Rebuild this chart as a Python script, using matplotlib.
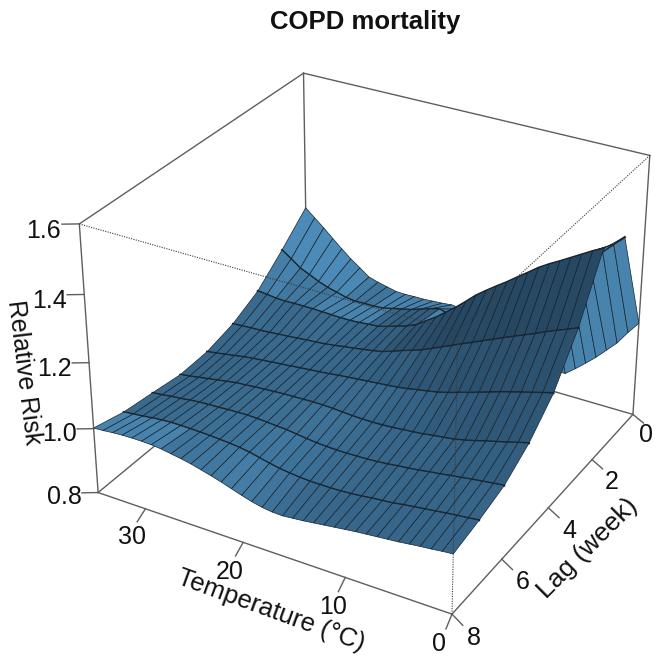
import numpy as np
import matplotlib
matplotlib.use('Agg')
import matplotlib.pyplot as plt
from matplotlib.colors import LinearSegmentedColormap

plt.rcParams['font.family'] = ['Liberation Sans', 'DejaVu Sans']

# Relative risk, one row per lag, one value per degree (0..35)
temperature = list(range(36))
lag_weeks = list(range(9))
rr_lag0 = [1.093, 1.055, 1.013, .981, .949, .921, .894, .869, .869, .881, .892, .904, .915, .926, .938, .949, .961, .972,
           .984, .988, .985, .983, .981, .981, .980, .981, .988, .995, 1.004, 1.026, 1.047, 1.072, 1.098, 1.125, 1.150, 1.175]
rr_lag1 = [1.419, 1.390, 1.360, 1.300, 1.282, 1.265, 1.246, 1.223, 1.201, 1.178, 1.157, 1.135, 1.112, 1.090, 1.065, 1.045, 1.030, 1.040,
           1.048, 1.040, 1.030, 1.020, 1.013, 1.006, .999, .997, .997, .996, 1.000, 1.008, 1.016, 1.027, 1.041, 1.054, 1.076, 1.097]
rr_lag2 = [1.447, 1.431, 1.413, 1.395, 1.377, 1.360, 1.341, 1.318, 1.296, 1.273, 1.252, 1.230, 1.207, 1.179, 1.152, 1.128, 1.104, 1.084,
           1.063, 1.050, 1.041, 1.031, 1.023, 1.021, 1.018, 1.016, 1.016, 1.017, 1.018, 1.019, 1.019, 1.019, 1.018, 1.019, 1.023, 1.026]
rr_lag3 = [1.277, 1.264, 1.252, 1.239, 1.225, 1.212, 1.199, 1.186, 1.172, 1.159, 1.145, 1.132, 1.118, 1.104, 1.091, 1.077, 1.067, 1.057,
           1.046, 1.036, 1.030, 1.025, 1.020, 1.016, 1.011, 1.007, 1.004, 1.002, .999, .996, .994, .991, .989, .988, .986, .984]
rr_lag4 = [1.152, 1.144, 1.135, 1.127, 1.118, 1.109, 1.099, 1.089, 1.079, 1.070, 1.060, 1.052, 1.046, 1.041, 1.035, 1.030, 1.027, 1.024,
           1.021, 1.018, 1.015, 1.012, 1.008, 1.005, 1.002, .999, .996, .993, .990, .987, .984, .980, .975, .970, .965, .961]
rr_lag5 = [1.075, 1.067, 1.058, 1.050, 1.042, 1.033, 1.025, 1.018, 1.014, 1.010, 1.005, 1.002, .999, .996, .994, .993, .993, .994,
           .996, .998, .999, .999, .998, .997, .996, .994, .992, .990, .987, .985, .980, .975, .970, .965, .960, .956]
rr_lag6 = [1.024, 1.020, 1.016, 1.012, 1.007, 1.003, .998, .994, .989, .985, .982, .978, .975, .973, .972, .971, .971, .972,
           .974, .977, .981, .985, .987, .989, .991, .992, .991, .990, .988, .987, .985, .982, .978, .975, .971, .968]
rr_lag7 = [.999, .995, .992, .988, .984, .980, .976, .972, .967, .964, .961, .957, .954, .952, .951, .951, .951, .953,
           .956, .960, .966, .973, .980, .985, .988, .990, .992, .993, .994, .994, .994, .992, .989, .985, .982, .979]
rr_lag8 = [.980, .977, .973, .970, .966, .962, .959, .956, .953, .950, .946, .942, .938, .934, .930, .927, .924, .925,
           .929, .936, .945, .955, .965, .974, .982, .990, .996, 1.001, 1.006, 1.009, 1.010, 1.010, 1.009, 1.007, 1.004, 1.002]
rr_ticks = [0.8, 1.0, 1.2, 1.4, 1.6]
temp_ticks = [0, 10, 20, 30]
lag_ticks = [0, 2, 4, 6, 8]

rr = np.array([rr_lag0, rr_lag1, rr_lag2, rr_lag3, rr_lag4, rr_lag5, rr_lag6, rr_lag7, rr_lag8])
T, L = np.meshgrid(temperature, lag_weeks)
T_MAX, LAG_MAX = temperature[-1], lag_weeks[-1]
Z_MIN, Z_MAX = rr_ticks[0], rr_ticks[-1]

fig = plt.figure(figsize=(6.55, 6.58), dpi=100)
ax = fig.add_axes([36.25 / 655, -4.68 / 658, 1, 1], projection='3d', computed_zorder=False)
ax.set_xlim(0, T_MAX)
ax.set_ylim(0, LAG_MAX)
ax.set_zlim(Z_MIN, Z_MAX)
ax.view_init(elev=29.882, azim=120.0039)
ax.set_proj_type('persp', focal_length=0.6636)
ax.set_box_aspect((1.329, 1.3291, 1), zoom=0.9588)
ax.set_axis_off()

# facet shade comes from the slope in box units
slope_t = np.zeros_like(rr)
slope_l = np.zeros_like(rr)
slope_t[:-1, :-1] = ((rr[:-1, 1:] - rr[:-1, :-1] + rr[1:, 1:] - rr[1:, :-1]) / 2 / 0.8) / (1.329 / T_MAX)
slope_l[:-1, :-1] = ((rr[1:, :-1] - rr[:-1, :-1] + rr[1:, 1:] - rr[:-1, 1:]) / 2 / 0.8) / (1.329 / LAG_MAX)
cmap = LinearSegmentedColormap.from_list('rr', ['#1d364a', '#2f5878', '#4c8bb7'])
shade = np.clip(0.72 + 0.55 * slope_t + 0.14 * slope_l, 0, 1)
# facets that fall away towards lag 0 are seen from below, and those are the light ones
shade[slope_l > 0.1] = 0.92
colors = cmap(shade)

LINE = '#18242e'
# strips go back to front, so the ridge hides what is behind it
for k in range(LAG_MAX):
    if k > 0:
        ax.plot(T[k], L[k], rr[k], color=LINE, lw=1.5, zorder=10 + 2 * k)
    ax.plot_surface(T[k:k + 2], L[k:k + 2], rr[k:k + 2], rstride=1, cstride=1, facecolors=colors[k:k + 2],
                    shade=False, edgecolor=LINE, linewidth=0.5, zorder=11 + 2 * k)

# box
GREY = '#5e5e5e'
solid = [
    ((T_MAX, LAG_MAX, Z_MIN), (T_MAX, LAG_MAX, Z_MAX)),
    ((0, 0, Z_MIN), (0, 0, Z_MAX)),
    ((T_MAX, 0, Z_MIN), (T_MAX, 0, Z_MAX)),
    ((T_MAX, LAG_MAX, Z_MAX), (T_MAX, 0, Z_MAX)),
    ((T_MAX, 0, Z_MAX), (0, 0, Z_MAX)),
    ((T_MAX, LAG_MAX, Z_MIN), (T_MAX, 0, Z_MIN)),
    ((T_MAX, 0, Z_MIN), (0, 0, Z_MIN)),
    ((T_MAX, LAG_MAX, Z_MIN), (0, LAG_MAX, Z_MIN)),
    ((0, LAG_MAX, Z_MIN), (0, 0, Z_MIN)),
]
for a, b in solid:
    ax.plot(*zip(a, b), color=GREY, lw=1.0, zorder=1)
dotted = [
    ((T_MAX, LAG_MAX, Z_MAX), (0, LAG_MAX, Z_MAX)),
    ((0, 0, Z_MAX), (0, LAG_MAX, Z_MAX)),
    ((0, LAG_MAX, Z_MIN), (0, LAG_MAX, Z_MAX)),
]
for a, b in dotted:
    ax.plot(*zip(a, b), color='#3a3a3a', lw=0.8, ls=(0, (1, 1.2)), zorder=60)

# tick marks
for t in temp_ticks:
    ax.plot([t, t - 0.51], [LAG_MAX, LAG_MAX + 0.45], [Z_MIN, Z_MIN], color=GREY, lw=1.0, zorder=1)
for l in lag_ticks:
    ax.plot([0, -1.45], [l, l + 0.2], [Z_MIN, Z_MIN], color=GREY, lw=1.0, zorder=1)
for r in rr_ticks:
    ax.plot([T_MAX, T_MAX + 1.2], [LAG_MAX, LAG_MAX + 0.17], [r, r], color=GREY, lw=1.0, zorder=1)


def label(x, y, s, **kw):
    # x, y in pixels from the top left of the picture
    fig.text(x / 655, 1 - y / 658, s, ha='center', va='center', color='#111111', **kw)


TICK = 18
for r, x, y in zip(rr_ticks, [64, 59, 54, 49, 43], [497, 434, 369, 301, 231]):
    label(x, y, '%.1f' % r, fontsize=TICK)
for t, x, y in zip(temp_ticks, [439, 333, 230, 132], [644, 607, 572, 537]):
    label(x, y, str(t), fontsize=TICK)
for l, x, y in zip(lag_ticks, [646, 612, 569, 523, 474], [435, 482, 531, 582, 638]):
    label(x, y, str(l), fontsize=TICK)

label(271, 611, 'Temperature (°C)', fontsize=18.5, rotation=-20, rotation_mode='anchor')
label(588, 548, 'Lag (week)', fontsize=19, rotation=45, rotation_mode='anchor')
label(24, 372, 'Relative Risk', fontsize=18, rotation=-83, rotation_mode='anchor')
label(365, 22, 'COPD mortality', fontsize=18.5, fontweight='bold')

fig.savefig('out.png', dpi=100)
